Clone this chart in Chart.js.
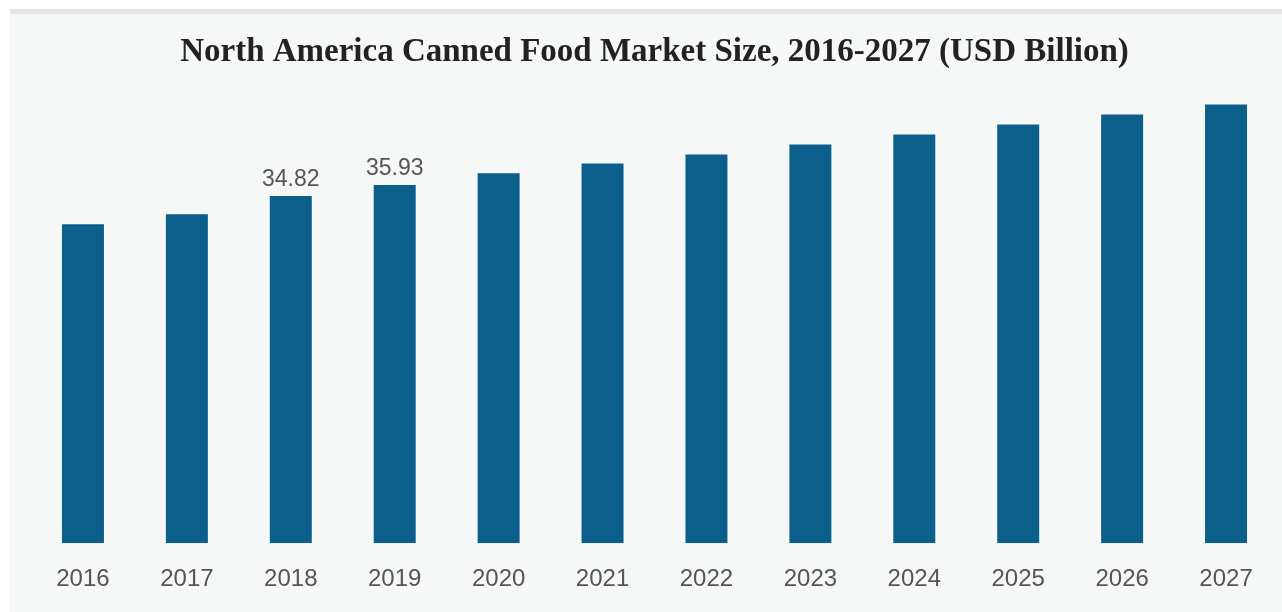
<!DOCTYPE html>
<html>
<head>
<meta charset="utf-8">
<script src="https://cdn.jsdelivr.net/npm/chart.js@4"></script>
<style>
  html, body { margin: 0; padding: 0; background: #ffffff; }
  #panel {
    position: absolute; left: 10px; top: 9px; width: 1272px; height: 603px;
    background: #f6f8f8; border-top: 5px solid #e4e6e6; box-sizing: border-box;
  }
  #wrap { position: absolute; left: 0; top: 0; width: 1282px; height: 612px; }
</style>
</head>
<body>
<div id="panel"></div>
<div id="wrap"><canvas id="marketChart" width="1282" height="612"></canvas></div>
<script>
// values, USD billion
const years = ['2016', '2017', '2018', '2019', '2020', '2021', '2022', '2023', '2024', '2025', '2026', '2027'];
const marketSize = [32.0, 33.0, 34.82, 35.93, 37.1, 38.1, 39.0, 40.0, 41.0, 42.0, 43.0, 44.0];
const labelledYears = ['2018', '2019'];

// writes the value above the bars listed in labelledYears
const valueLabels = {
    id: 'valueLabels',
    afterDatasetsDraw(chart) {
        const ctx = chart.ctx;
        const meta = chart.getDatasetMeta(0);
        ctx.save();
        ctx.font = '23px "Liberation Sans", Arial, sans-serif';
        ctx.fillStyle = '#555555';
        ctx.textAlign = 'center';
        ctx.textBaseline = 'bottom';
        meta.data.forEach((bar, i) => {
            if (labelledYears.includes(years[i])) {
                ctx.fillText(marketSize[i].toFixed(2), bar.x, bar.y - 5);
            }
        });
        ctx.restore();
    }
};

const ctx = document.getElementById('marketChart').getContext('2d');
new Chart(ctx, {
    type: 'bar',
    data: {
        labels: years,
        datasets: [{
            label: 'Market Size',
            data: marketSize,
            backgroundColor: '#0d5f8b',
            barPercentage: 0.404,
            categoryPercentage: 1
        }]
    },
    options: {
        responsive: false,
        animation: false,
        layout: {
            padding: { left: 31, right: 4, top: 0, bottom: 4 }
        },
        plugins: {
            legend: { display: false },
            tooltip: { enabled: false },
            title: {
                display: true,
                text: 'North America Canned Food Market Size, 2016-2027 (USD Billion)',
                color: '#222222',
                font: { family: '"Liberation Serif", "Times New Roman", serif', size: 33, weight: 'bold' },
                padding: { top: 33, bottom: 22 }
            }
        },
        scales: {
            x: {
                grid: { display: false },
                border: { display: false },
                ticks: {
                    color: '#555555',
                    font: { family: '"Liberation Sans", Arial, sans-serif', size: 24 },
                    padding: 14,
                    maxRotation: 0
                }
            },
            y: {
                display: false,
                min: 0,
                max: 45
            }
        }
    },
    plugins: [valueLabels]
});
</script>
</body>
</html>
